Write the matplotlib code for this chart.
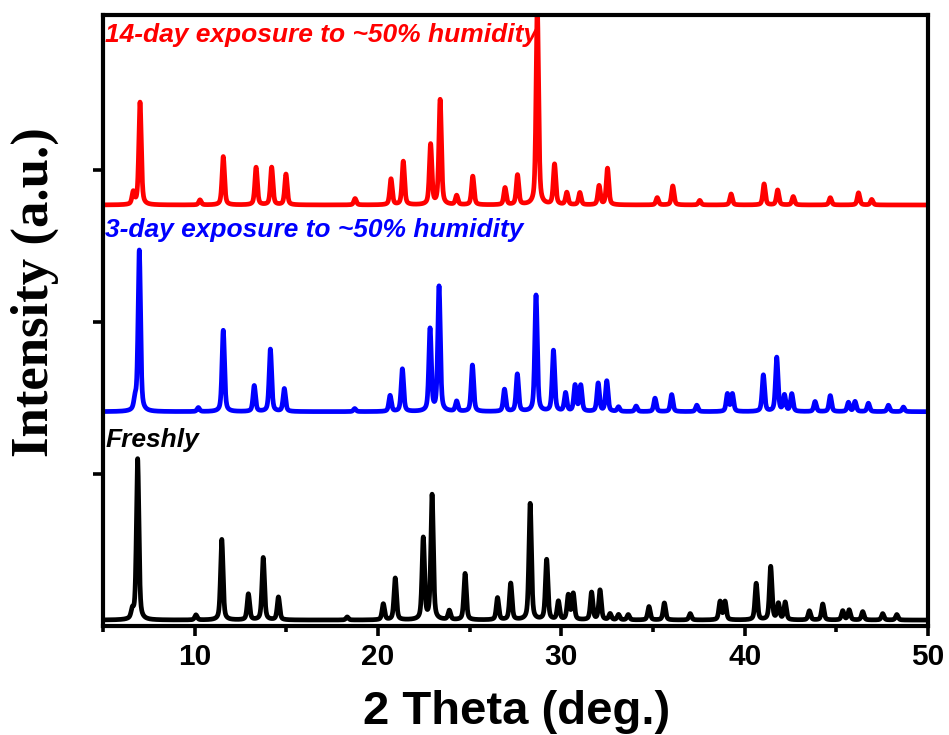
import numpy as np
import matplotlib
matplotlib.use('Agg')
import matplotlib.pyplot as plt

plt.rcParams['font.family'] = ['Liberation Sans', 'DejaVu Sans']

# peak positions (2 theta, deg) and peak heights (a.u.)
fresh_pos = [6.60, 6.89, 10.07, 11.48, 12.93, 13.74, 14.57, 18.32, 20.29, 20.94,
             22.47, 22.95, 23.89, 24.75, 26.52, 27.24, 28.30, 29.20, 29.84, 30.38,
             30.65, 31.65, 32.11, 32.66, 33.12, 33.65, 34.78, 35.62, 37.03, 38.66,
             38.93, 40.63, 41.42, 41.84, 42.21, 43.53, 44.26, 45.35, 45.70, 46.44,
             47.53, 48.30]
fresh_int = [53, 1060, 33, 530, 170, 410, 150, 20, 105, 275,
             535, 820, 60, 305, 145, 240, 765, 395, 120, 160,
             170, 180, 195, 40, 35, 35, 88, 112, 42, 120,
             120, 240, 350, 105, 115, 60, 105, 60, 66, 55,
             42, 36]

day3_pos = [6.75, 6.98, 10.20, 11.56, 13.25, 14.13, 14.89, 18.73, 20.66, 21.33,
            22.84, 23.33, 24.29, 25.15, 26.90, 27.60, 28.62, 29.57, 30.23, 30.75,
            31.06, 32.01, 32.48, 33.12, 34.08, 35.11, 36.02, 37.39, 39.06, 39.33,
            41.02, 41.75, 42.17, 42.57, 43.84, 44.67, 45.66, 46.02, 46.75, 47.84,
            48.66]
day3_int = [66, 1060, 26, 535, 170, 410, 150, 20, 105, 280,
            540, 820, 66, 305, 145, 245, 765, 400, 120, 170,
            170, 185, 200, 30, 36, 88, 112, 42, 115, 115,
            240, 355, 105, 115, 66, 105, 60, 66, 55, 42,
            30]

day14_pos = [6.65, 7.02, 10.29, 11.56, 13.35, 14.20, 14.98, 18.75, 20.71, 21.38,
             22.87, 23.39, 24.29, 25.17, 26.93, 27.61, 28.69, 29.63, 30.30, 31.01,
             32.06, 32.52, 35.23, 36.08, 37.55, 39.26, 41.06, 41.80, 42.65, 44.67,
             46.21, 46.93]
day14_int = [79, 675, 33, 318, 247, 247, 202, 42, 170, 286,
             395, 690, 60, 188, 112, 195, 1300, 265, 80, 80,
             125, 240, 48, 125, 30, 72, 138, 98, 55, 48,
             80, 36]

# background level of each (offset) pattern
fresh_base = 39
day3_base = 1410
day14_base = 2770

labels = ['Freshly', '3-day exposure to ~50% humidity', '14-day exposure to ~50% humidity']
colors = ['black', '#0000ff', '#ff0000']

two_theta = np.arange(5.0, 50.001, 0.01)


def pattern(pos, inten, base, fwhm=0.16, eta=0.5):
    y = np.full_like(two_theta, float(base))
    for p, h in zip(pos, inten):
        d = two_theta - p
        g = np.exp(-4 * np.log(2) * d**2 / fwhm**2)
        l = 1.0 / (1.0 + 4 * d**2 / fwhm**2)
        y += h * (eta * l + (1 - eta) * g)
    return y


dpi = 100
fig = plt.figure(figsize=(949.0 / dpi, 735.0 / dpi), dpi=dpi)
ax = fig.add_axes([103 / 949, 109 / 735, 825 / 949, 611 / 735])

series = [(fresh_pos, fresh_int, fresh_base),
          (day3_pos, day3_int, day3_base),
          (day14_pos, day14_int, day14_base)]
for (pos, inten, base), c in zip(series, colors):
    ax.plot(two_theta, pattern(pos, inten, base), color=c, lw=3.4,
            solid_joinstyle='round')

ax.set_xlim(5, 50)
ax.set_ylim(0, 4020)
ax.set_xticks([10, 20, 30, 40, 50])
ax.set_xticks([5, 15, 25, 35, 45], minor=True)
ax.set_yticks([1000, 2000, 3000])
ax.set_yticklabels([])

ax.tick_params(which='major', direction='out', length=7, width=2.6, pad=5,
               labelsize=21.5)
ax.tick_params(which='minor', direction='out', length=4.5, width=2.6)
for lab in ax.get_xticklabels():
    lab.set_fontweight('bold')
for sp in ax.spines.values():
    sp.set_linewidth(3)

# sample labels
text_y = [0.293, 0.636, 0.956]
for lab, c, ty in zip(labels, colors, text_y):
    ax.text(0.003, ty, lab, transform=ax.transAxes, color=c, fontsize=19,
            fontweight='bold', fontstyle='italic', ha='left', va='baseline')

fig.text(517 / 949, 1 - 712 / 735, '2 Theta (deg.)', fontsize=34,
         fontweight='bold', ha='center', va='center')
fig.text(35 / 949, 1 - 292 / 735, 'Intensity (a.u.)', rotation=90,
         fontsize=38, fontweight='bold', family=['Liberation Serif', 'DejaVu Serif'],
         ha='center', va='center')

plt.savefig('out.png', dpi=dpi)
